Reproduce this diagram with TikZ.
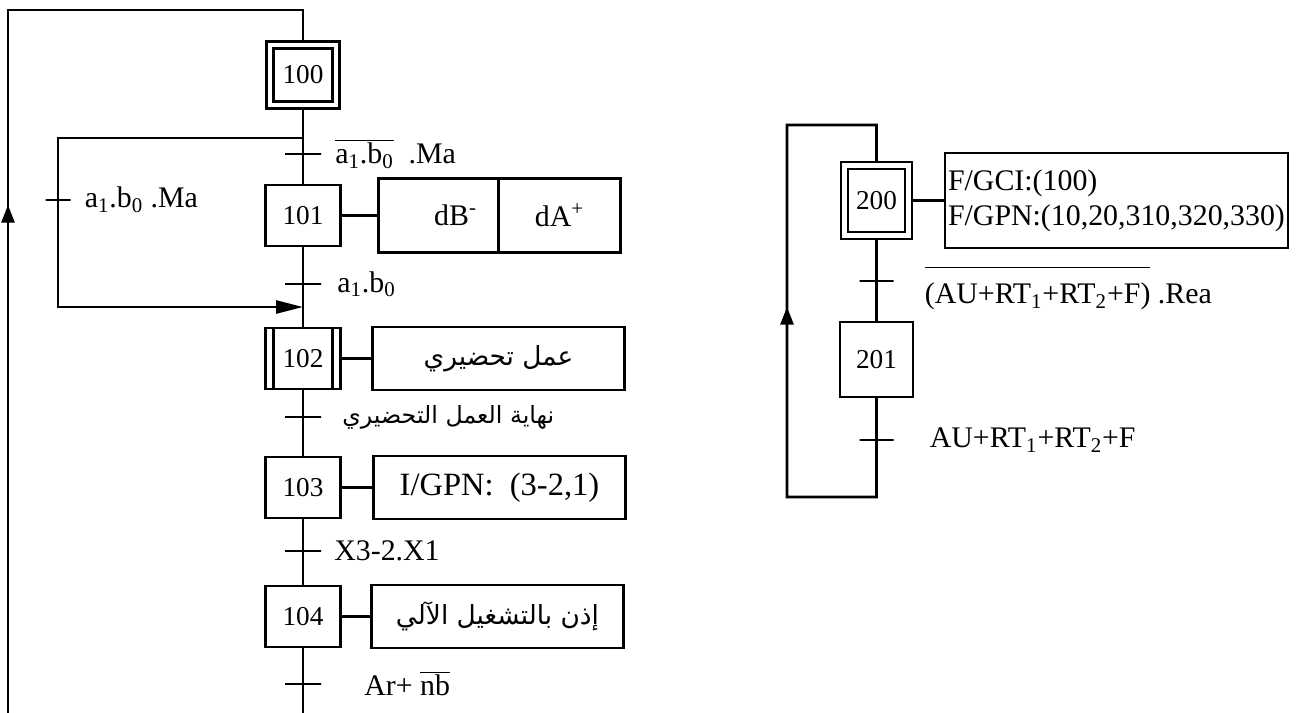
\documentclass[tikz,border=0pt]{standalone}
\usepackage{fontspec}
\setmainfont{Liberation Serif}
\newfontfamily\arabicfont[Script=Arabic]{DejaVu Sans}
\TeXXeTstate=1
\usetikzlibrary{calc, positioning, arrows.meta}

\begin{document}
\begin{tikzpicture}[
        line width=1.5pt,
        stepbox/.style={rectangle, draw=black, minimum width=1.5cm, minimum height=1.22cm, inner sep=0pt, outer sep=0pt, font=\fontsize{15.5}{18}\selectfont},
        initstep/.style={stepbox, double=white, double distance=0.087cm, outer sep=2pt},
        act/.style={rectangle, draw=black, minimum width=5.04cm, minimum height=1.26cm, inner sep=0pt, outer sep=0pt, font=\fontsize{17}{20}\selectfont},
        transbar/.style={rectangle, draw=black, minimum width=0.72cm, minimum height=0pt, inner sep=0pt, outer sep=0pt},
        lbl/.style={inner sep=0pt, font=\fontsize{17}{20}\selectfont},
        arabic/.style={font=\fontsize{15}{18}\arabicfont},
        arrow/.style={-{Triangle[length=0.35cm, width=0.26cm]}},
        longarrow/.style={-{Triangle[length=0.54cm, width=0.26cm]}}
    ]
    \path[use as bounding box] (0,0) rectangle (26.2,-14.26);
    \clip (0,0) rectangle (26.2,-14.26);

    % grafcet de gauche
    \node[initstep, minimum width=1.32cm, minimum height=1.2cm] (s100) at (6.06,-1.5) {100};
    \node[transbar, below=0.91cm of s100] (t1) {};
    \node[stepbox, below=0.62cm of t1] (s101) {101};
    \node[transbar, below=0.76cm of s101] (t2) {};
    \coordinate[below=0.46cm of t2] (join);
    \node[stepbox, below=0.88cm of t2] (s102) {102};
    \node[transbar, below=0.56cm of s102] (t3) {};
    \node[stepbox, below=0.8cm of t3] (s103) {103};
    \node[transbar, below=0.66cm of s103] (t4) {};
    \node[stepbox, below=0.7cm of t4] (s104) {104};
    \node[transbar, below=0.74cm of s104] (t5) {};
    \draw ([xshift=0.16cm]s102.north west) -- ([xshift=0.16cm]s102.south west);
    \draw ([xshift=-0.16cm]s102.north east) -- ([xshift=-0.16cm]s102.south east);

    % actions
    \node[act, minimum width=2.4cm, minimum height=1.48cm, right=0.76cm of s101] (a101a) {\hspace{0.68cm}dB\textsuperscript{-}};
    \node[act, minimum width=2.44cm, minimum height=1.48cm, right=0pt of a101a] (a101b) {dA\textsuperscript{+}\hspace{0.44cm}};
    \node[act, right=0.64cm of s102, arabic] (a102) {\beginR عمل تحضيري\endR};
    \node[act, right=0.66cm of s103, font=\fontsize{18.5}{22}\selectfont] (a103) {I/GPN:\hspace{0.5em}(3-2,1)};
    \node[act, right=0.62cm of s104, arabic] (a104) {\beginR إذن بالتشغيل الآلي\endR};

    % receptivites
    \node[lbl, right=0.26cm of t1] (l1) {$\overline{\hbox{a\textsubscript{1}.b\textsubscript{0}}}$\ \ .Ma};
    \node[lbl, right=0.3cm of t2] (l2) {a\textsubscript{1}.b\textsubscript{0}};
    \node[lbl, right=0.4cm of t3, font=\fontsize{13.5}{16}\arabicfont] (l3) {\beginR نهاية العمل التحضيري\endR};
    \node[lbl, right=0.24cm of t4] (l4) {X3-2.X1};
    \node[lbl, right=0.84cm of t5] (l5) {Ar+ $\overline{\hbox{nb}}$};

    % saut d'etapes
    \coordinate (div) at ($(s100.south)!0.65!(t1)$);
    \node[transbar, minimum width=0.5cm] (t0) at (1.16,-4.0) {};
    \node[lbl, right=0.26cm of t0] (l0) {a\textsubscript{1}.b\textsubscript{0} .Ma};

    % liaisons
    \draw (s100) -- (t1) -- (s101) -- (t2) -- (s102) -- (t3) -- (s103) -- (t4) -- (s104) -- (t5);
    \draw (s101.east) -- (a101a.west);
    \draw (s102.east) -- (a102.west);
    \draw (s103.east) -- (a103.west);
    \draw (s104.east) -- (a104.west);
    \draw (div) -| (t0);
    \draw[longarrow] (t0) |- (join);

    % retour vers 100
    \coordinate (lb) at (0.16,-14.6);
    \coordinate (la) at (0.16,-4.1);
    \coordinate (lt) at (0.16,-0.2);
    \draw (t5) -- (t5 |- lb) -- (lb) -- (lt) -| (s100);
    \draw[arrow] (lb) -- (la);

    % grafcet de droite
    \node[initstep, minimum width=1.28cm, minimum height=1.4cm] (s200) at (17.53,-4.01) {200};
    \node[act, align=left, minimum height=1.9cm, inner xsep=0.06cm, right=0.66cm of s200] (a200) {F/GCI:(100)\\F/GPN:(10,20,310,320,330)};
    \node[transbar, minimum width=0.68cm, below=0.84cm of s200] (t6) {};
    \node[stepbox, minimum width=1.46cm, minimum height=1.5cm, below=0.82cm of t6] (s201) {201};
    \node[transbar, minimum width=0.68cm, below=0.86cm of s201] (t7) {};
    \coordinate[below=1.14cm of t7] (rb);
    \node[lbl, right=0.6cm of t6, yshift=-0.14cm] (l6) {$\overline{\hbox{\rule{0pt}{1.15em}(AU+RT\textsubscript{1}+RT\textsubscript{2}+F)}}$ .Rea};
    \node[lbl, right=0.7cm of t7] (l7) {AU+RT\textsubscript{1}+RT\textsubscript{2}+F};

    \coordinate (rl) at (15.74,-9.94);
    \coordinate (ra) at (15.74,-6.14);
    \coordinate (rt) at (15.74,-2.5);
    \draw (s200.east) -- (a200.west);
    \draw (s200) -- (t6) -- (s201) -- (t7) -- (rb) -- (rl) -- (rt) -| (s200);
    \draw[arrow] (rl) -- (ra);

\end{tikzpicture}
\end{document}
